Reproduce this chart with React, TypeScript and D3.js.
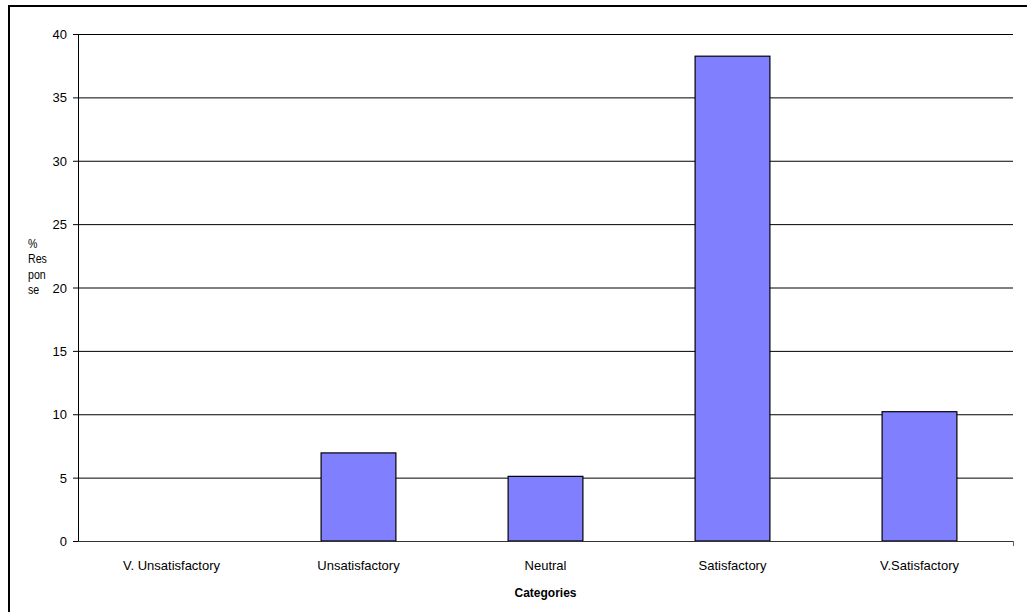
import React from "react";
import * as d3 from "d3";

const categories = ["V. Unsatisfactory", "Unsatisfactory", "Neutral", "Satisfactory", "V.Satisfactory"];
const values = [0, 6.95, 5.1, 38.25, 10.2];
const yTicks = [0, 5, 10, 15, 20, 25, 30, 35, 40];
const yLabelLines = ["%", "Res", "pon", "se"];
const xTitle = "Categories";

export default function App() {
  const W = 1027, H = 612;
  const left = 78, right = 1013, top = 34, bottom = 541;
  const x = d3.scaleBand<string>().domain(categories).range([left, right]).paddingInner(0).paddingOuter(0);
  const y = d3.scaleLinear().domain([0, 40]).range([bottom, top]);
  const bw = x.bandwidth() * 0.4;
  const font = "Liberation Sans, Arial, sans-serif";
  return (
    <svg width={W} height={H} style={{ position: "absolute", left: 0, top: 0 }}>
      <rect x={0} y={0} width={W} height={H} fill="#fff" />
      <rect x={9} y={6} width={W + 20} height={H + 20} fill="none" stroke="#000" strokeWidth={2} />
      {yTicks.map((t) => (
        <g key={t}>
          {t > 0 && <line x1={left} x2={right} y1={y(t) + 0.5} y2={y(t) + 0.5} stroke="#000" strokeWidth={1} />}
          <line x1={left - 5} x2={left} y1={y(t) + 0.5} y2={y(t) + 0.5} stroke="#000" />
          <text x={left - 11} y={y(t) + 5} textAnchor="end" fontFamily={font} fontSize={13} fill="#000">{t}</text>
        </g>
      ))}
      {categories.map((c, i) => {
        const cx = (x(c) as number) + x.bandwidth() / 2;
        return (
          <g key={c}>
            {values[i] > 0 && (
              <rect x={cx - bw / 2} y={y(values[i])} width={bw} height={bottom - y(values[i])}
                fill="#8080ff" stroke="#000" strokeWidth={1.2} />
            )}
            <text x={cx} y={570} textAnchor="middle" fontFamily={font} fontSize={13} fill="#000">{c}</text>
          </g>
        );
      })}
      <line x1={left + 0.5} x2={left + 0.5} y1={top} y2={bottom} stroke="#000" />
      <line x1={left} x2={right} y1={bottom + 0.5} y2={bottom + 0.5} stroke="#333" />
      <line x1={right + 0.5} x2={right + 0.5} y1={bottom} y2={bottom + 5} stroke="#666" />
      {yLabelLines.map((s, i) => (
        <text key={i} x={28} y={248 + i * 15.5} fontFamily={font} fontSize={12.5} fill="#000"
          transform={`translate(28,0) scale(0.85,1) translate(-28,0)`}>{s}</text>
      ))}
      <text x={(left + right) / 2} y={597} textAnchor="middle" fontFamily={font} fontSize={12} fontWeight="bold" fill="#000">{xTitle}</text>
    </svg>
  );
}
